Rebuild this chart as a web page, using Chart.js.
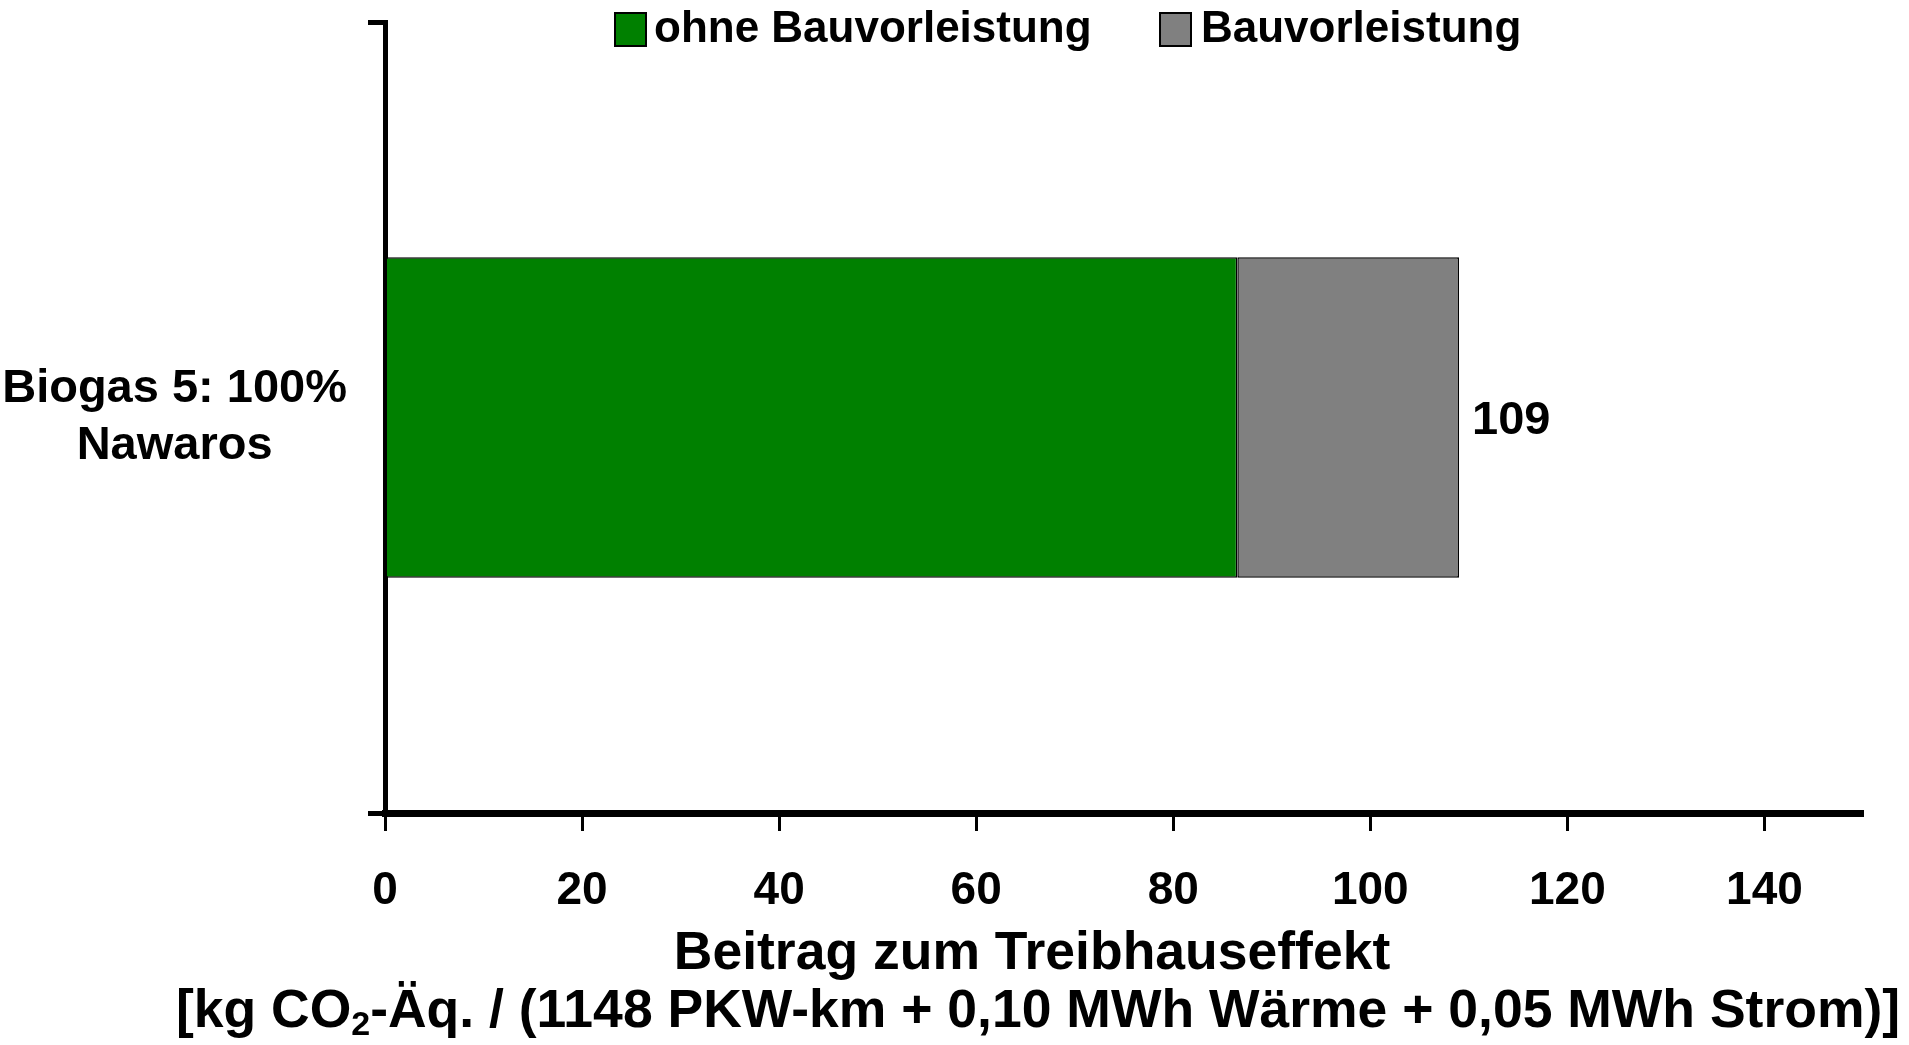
<!DOCTYPE html>
<html lang="de">
<head>
<meta charset="utf-8">
<title>Beitrag zum Treibhauseffekt</title>
<script src="https://cdn.jsdelivr.net/npm/chart.js@4.4.1/dist/chart.umd.min.js"></script>
<style>
  html, body { margin: 0; padding: 0; background: #fff; }
  #wrap { width: 1909px; height: 1045px; position: relative; }
</style>
</head>
<body>
<div id="wrap"><canvas id="mainChart" width="1909" height="1045"></canvas></div>
<script>
// --- DATA ---
const categories = [["Biogas 5: 100%", "Nawaros"]];
const seriesNames = ["ohne Bauvorleistung", "Bauvorleistung"];
const ohneBau = [86.5];
const bau = [22.5];
const totals = [109];
const xTicks = [0, 20, 40, 60, 80, 100, 120, 140];

// --- LOOK ---
const FONT = "'Liberation Sans', Arial, Helvetica, sans-serif";
const COLORS = {
    ohne: '#008000',
    bau: '#808080'
};

// legend drawn by hand so it can sit over the top of the plot
const legendPlugin = {
    id: 'topLegend',
    afterDraw(chart) {
        const ctx = chart.ctx;
        const spots = [{ box: 615, text: 654 }, { box: 1160, text: 1201 }];
        ctx.save();
        ctx.font = "bold 44px " + FONT;
        ctx.textBaseline = 'middle';
        ctx.textAlign = 'left';
        chart.data.datasets.forEach((ds, i) => {
            const s = spots[i];
            ctx.fillStyle = ds.backgroundColor;
            ctx.fillRect(s.box, 13, 31, 33);
            ctx.lineWidth = 2;
            ctx.strokeStyle = '#000';
            ctx.strokeRect(s.box, 13, 31, 33);
            ctx.fillStyle = '#000';
            ctx.fillText(ds.label, s.text, 30);
        });
        ctx.restore();
    }
};

// total printed next to the end of each stacked bar
const totalPlugin = {
    id: 'totals',
    afterDatasetsDraw(chart) {
        const ctx = chart.ctx;
        const last = chart.getDatasetMeta(chart.data.datasets.length - 1);
        const xScale = chart.scales.x;
        ctx.save();
        ctx.font = "bold 47px " + FONT;
        ctx.fillStyle = '#000';
        ctx.textBaseline = 'middle';
        ctx.textAlign = 'left';
        last.data.forEach((bar, i) => {
            ctx.fillText(String(totals[i]), xScale.getPixelForValue(totals[i]) + 13, bar.y + 4);
        });
        ctx.restore();
    }
};

// two-line axis caption with subscript in CO2
const captionPlugin = {
    id: 'caption',
    afterDraw(chart) {
        const ctx = chart.ctx;
        const cx = 1038;
        ctx.save();
        ctx.fillStyle = '#000';
        ctx.textBaseline = 'middle';
        ctx.textAlign = 'center';
        ctx.font = "bold 53.5px " + FONT;
        ctx.fillText("Beitrag zum Treibhauseffekt", cx - 6, 954);

        const parts = [
            { t: "[kg CO", sub: false },
            { t: "2", sub: true },
            { t: "-Äq. / (1148 PKW-km + 0,10 MWh Wärme + 0,05 MWh Strom)]", sub: false }
        ];
        const big = "bold 53.5px " + FONT;
        const small = "bold 34px " + FONT;
        let total = 0;
        parts.forEach(p => {
            ctx.font = p.sub ? small : big;
            p.w = ctx.measureText(p.t).width;
            total += p.w;
        });
        let x = cx - total / 2;
        ctx.textAlign = 'left';
        parts.forEach(p => {
            ctx.font = p.sub ? small : big;
            ctx.fillText(p.t, x, p.sub ? 1026 : 1012);
            x += p.w;
        });
        ctx.restore();
    }
};

const ctx = document.getElementById("mainChart").getContext("2d");
const chart = new Chart(ctx, {
    type: 'bar',
    data: {
        labels: categories,
        datasets: [
            {
                label: seriesNames[0],
                data: ohneBau,
                backgroundColor: COLORS.ohne,
                borderColor: '#000',
                borderWidth: 1.5,
                borderSkipped: false
            },
            {
                label: seriesNames[1],
                data: bau,
                backgroundColor: COLORS.bau,
                borderColor: '#000',
                borderWidth: 1.5,
                borderSkipped: false
            }
        ]
    },
    options: {
        indexAxis: 'y',
        responsive: false,
        animation: false,
        maintainAspectRatio: false,
        categoryPercentage: 1,
        barPercentage: 0.405,
        layout: { padding: { top: 22, right: 46, bottom: 0, left: 0 } },
        plugins: {
            legend: { display: false },
            tooltip: { enabled: false }
        },
        scales: {
            x: {
                stacked: true,
                min: 0,
                max: 150,
                afterFit: (scale) => { scale.height = 232; },
                afterBuildTicks: (scale) => {
                    scale.ticks = xTicks.map(v => ({ value: v }));
                },
                border: { display: true, color: '#000', width: 7 },
                grid: {
                    drawOnChartArea: false,
                    drawTicks: true,
                    tickLength: 18,
                    tickWidth: 3,
                    tickColor: '#000',
                    color: '#000'
                },
                ticks: {
                    color: '#000',
                    padding: 33,
                    maxRotation: 0,
                    font: { family: FONT, size: 46, weight: 'bold' }
                }
            },
            y: {
                stacked: true,
                afterFit: (scale) => {
                    scale.width = 385;
                    // the two-line label must not push the plot down
                    scale.paddingTop = 0;
                    scale.paddingBottom = 0;
                },
                border: { display: true, color: '#000', width: 5 },
                grid: {
                    offset: true,
                    drawOnChartArea: false,
                    tickLength: 17,
                    tickWidth: 5,
                    tickColor: '#000',
                    color: '#000'
                },
                ticks: {
                    color: '#000',
                    crossAlign: 'center',
                    padding: 21,
                    font: { family: FONT, size: 47, weight: 'bold', lineHeight: 1.2 }
                }
            }
        }
    },
    plugins: [legendPlugin, totalPlugin, captionPlugin]
});
</script>
</body>
</html>
